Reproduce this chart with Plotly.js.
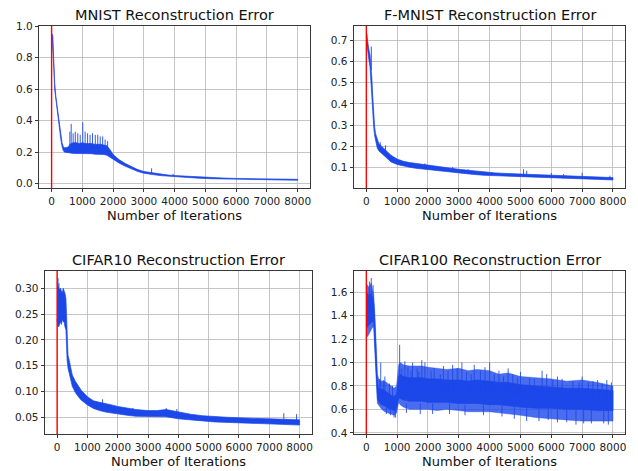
<!DOCTYPE html>
<html>
<head>
<meta charset="utf-8">
<script src="https://cdn.plot.ly/plotly-3.0.1.min.js"></script>
<style>html,body{margin:0;padding:0;background:#fff;}#chart{width:638px;height:471px;}</style>
</head>
<body>
<div id="chart"></div>
<script>
// ---------- DATA ----------
var titles = ["MNIST Reconstruction Error", "F-MNIST Reconstruction Error", "CIFAR10 Reconstruction Error", "CIFAR100 Reconstruction Error"];
var xLabel = "Number of Iterations";
var xTickVals = [0, 1000, 2000, 3000, 4000, 5000, 6000, 7000, 8000];

// MNIST: upper / lower envelope of the noisy curve
var mnistIter = [0, 20, 40, 70, 100, 140, 180, 220, 260, 300, 340, 380, 420, 480, 540, 600, 700, 800, 900, 1000, 1100, 1200, 1300, 1400, 1500, 1600, 1700, 1800, 1900, 2000, 2100, 2200, 2400, 2600, 2800, 3000, 3200, 3400, 3600, 3800, 4000, 4400, 4800, 5200, 5600, 6000, 6500, 7000, 7500, 8000];
var mnistHi = [0.95, 0.95, 0.94, 0.78, 0.64, 0.55, 0.49, 0.43, 0.37, 0.31, 0.26, 0.235, 0.228, 0.23, 0.232, 0.25, 0.26, 0.26, 0.255, 0.26, 0.255, 0.255, 0.255, 0.25, 0.25, 0.25, 0.245, 0.24, 0.215, 0.185, 0.168, 0.152, 0.127, 0.106, 0.089, 0.077, 0.071, 0.063, 0.058, 0.054, 0.051, 0.046, 0.042, 0.038, 0.035, 0.033, 0.031, 0.029, 0.028, 0.027];
var mnistLo = [0.92, 0.92, 0.90, 0.74, 0.60, 0.51, 0.45, 0.40, 0.34, 0.28, 0.235, 0.21, 0.2, 0.198, 0.196, 0.195, 0.192, 0.19, 0.19, 0.19, 0.19, 0.19, 0.19, 0.187, 0.187, 0.185, 0.185, 0.18, 0.17, 0.155, 0.142, 0.13, 0.11, 0.092, 0.077, 0.066, 0.06, 0.054, 0.05, 0.046, 0.043, 0.038, 0.034, 0.031, 0.029, 0.027, 0.025, 0.023, 0.022, 0.021];
var mnistSpikeIter = [593, 637, 700, 770, 850, 930, 1013, 1090, 1170, 1250, 1330, 1420, 1500, 1580, 1660, 1740, 1822, 3250, 3950];
var mnistSpikeTop = [0.33, 0.38, 0.32, 0.33, 0.32, 0.31, 0.39, 0.33, 0.32, 0.31, 0.32, 0.31, 0.31, 0.30, 0.30, 0.28, 0.27, 0.097, 0.062];
var mnistSpikeBottom = [0.2, 0.2, 0.2, 0.2, 0.2, 0.2, 0.2, 0.2, 0.2, 0.2, 0.2, 0.2, 0.2, 0.2, 0.19, 0.19, 0.19, 0.065, 0.048];

// F-MNIST
var fmIter = [0, 30, 60, 90, 120, 150, 180, 210, 240, 270, 300, 350, 400, 500, 600, 700, 800, 1000, 1200, 1400, 1600, 1800, 2000, 2300, 2600, 3000, 3400, 3800, 4200, 4600, 5000, 5400, 5800, 6200, 6600, 7000, 7400, 7800, 8000];
var fmHi = [0.735, 0.70, 0.675, 0.65, 0.63, 0.59, 0.52, 0.43, 0.35, 0.29, 0.26, 0.23, 0.215, 0.2, 0.185, 0.172, 0.158, 0.14, 0.13, 0.124, 0.12, 0.116, 0.111, 0.104, 0.098, 0.092, 0.086, 0.079, 0.075, 0.072, 0.07, 0.067, 0.065, 0.063, 0.061, 0.06, 0.058, 0.055, 0.053];
var fmLo = [0.70, 0.655, 0.63, 0.60, 0.575, 0.52, 0.44, 0.37, 0.29, 0.25, 0.225, 0.195, 0.18, 0.165, 0.15, 0.14, 0.127, 0.115, 0.107, 0.102, 0.097, 0.093, 0.09, 0.085, 0.08, 0.075, 0.069, 0.064, 0.06, 0.057, 0.055, 0.053, 0.051, 0.049, 0.048, 0.047, 0.045, 0.043, 0.042];
var fmSpikeIter = [20, 162, 450, 620, 1100, 1900, 2800, 3300, 5100, 5200, 6000, 6400, 7000, 7900];
var fmSpikeTop = [0.73, 0.67, 0.22, 0.205, 0.135, 0.12, 0.102, 0.092, 0.092, 0.085, 0.075, 0.07, 0.076, 0.062];
var fmSpikeBottom = [0.66, 0.56, 0.18, 0.16, 0.11, 0.095, 0.08, 0.072, 0.056, 0.056, 0.05, 0.049, 0.047, 0.043];

// CIFAR10
var c10Iter = [0, 20, 50, 80, 110, 140, 170, 200, 230, 260, 290, 310, 330, 360, 400, 450, 500, 600, 700, 800, 1000, 1200, 1400, 1600, 1800, 2000, 2300, 2600, 3000, 3300, 3600, 4000, 4400, 4800, 5200, 5600, 6000, 6500, 7000, 7500, 8000];
var c10Hi = [0.31, 0.305, 0.30, 0.296, 0.30, 0.295, 0.29, 0.30, 0.295, 0.29, 0.28, 0.24, 0.19, 0.17, 0.16, 0.145, 0.132, 0.12, 0.11, 0.102, 0.09, 0.082, 0.079, 0.077, 0.074, 0.071, 0.068, 0.065, 0.063, 0.063, 0.065, 0.06, 0.056, 0.053, 0.051, 0.05, 0.049, 0.048, 0.047, 0.047, 0.045];
var c10Lo = [0.24, 0.23, 0.225, 0.23, 0.235, 0.23, 0.24, 0.235, 0.235, 0.225, 0.22, 0.19, 0.16, 0.145, 0.135, 0.12, 0.11, 0.098, 0.09, 0.083, 0.074, 0.067, 0.063, 0.06, 0.058, 0.056, 0.054, 0.052, 0.051, 0.051, 0.051, 0.047, 0.045, 0.043, 0.041, 0.04, 0.039, 0.038, 0.037, 0.036, 0.035];
var c10SpikeIter = [30, 60, 1500, 2500, 3600, 3950, 7480, 7900];
var c10SpikeTop = [0.32, 0.31, 0.085, 0.068, 0.068, 0.066, 0.058, 0.056];
var c10SpikeBottom = [0.25, 0.24, 0.065, 0.055, 0.052, 0.05, 0.04, 0.038];

// CIFAR100: outer extremes and dense core
var c100Iter = [0, 40, 80, 120, 160, 200, 240, 270, 300, 330, 360, 400, 500, 600, 700, 800, 900, 980, 1050, 1100, 1200, 1400, 1600, 1800, 2000, 2300, 2600, 3000, 3300, 3600, 4000, 4300, 4600, 5000, 5500, 6000, 6500, 7000, 7500, 8000];
var c100OuterHi = [1.67, 1.66, 1.64, 1.66, 1.68, 1.62, 1.58, 1.45, 1.25, 1.05, 0.9, 0.86, 0.84, 0.84, 0.82, 0.8, 0.78, 0.8, 0.98, 1.0, 0.98, 0.97, 0.97, 0.97, 0.96, 0.95, 0.94, 0.95, 0.93, 0.94, 0.93, 0.9, 0.91, 0.88, 0.87, 0.86, 0.84, 0.85, 0.83, 0.8];
var c100OuterLo = [1.24, 1.22, 1.25, 1.27, 1.28, 1.3, 1.3, 1.2, 1.0, 0.8, 0.65, 0.63, 0.6, 0.58, 0.57, 0.56, 0.55, 0.57, 0.66, 0.64, 0.62, 0.6, 0.6, 0.6, 0.6, 0.59, 0.6, 0.59, 0.58, 0.58, 0.58, 0.57, 0.56, 0.55, 0.53, 0.52, 0.51, 0.5, 0.5, 0.5];
var c100CoreHi = [1.6, 1.58, 1.57, 1.58, 1.58, 1.55, 1.5, 1.38, 1.16, 0.97, 0.82, 0.78, 0.77, 0.76, 0.74, 0.72, 0.71, 0.73, 0.88, 0.9, 0.88, 0.87, 0.87, 0.87, 0.86, 0.86, 0.85, 0.85, 0.84, 0.85, 0.84, 0.83, 0.83, 0.81, 0.8, 0.79, 0.78, 0.78, 0.77, 0.76];
var c100CoreLo = [1.32, 1.3, 1.32, 1.33, 1.34, 1.35, 1.34, 1.26, 1.06, 0.86, 0.69, 0.66, 0.64, 0.63, 0.61, 0.6, 0.59, 0.61, 0.7, 0.69, 0.68, 0.67, 0.67, 0.67, 0.66, 0.66, 0.66, 0.65, 0.65, 0.65, 0.64, 0.64, 0.63, 0.62, 0.61, 0.61, 0.6, 0.6, 0.59, 0.59];
var c100SpikeIter = [160, 100, 220, 467, 420, 550, 600, 750, 850, 650, 780, 900, 950,
  1080, 1150, 1250, 1350, 1450, 1500, 1650, 1700, 1800, 1900, 2100, 2200, 2400, 2500, 2650, 2800, 2950, 3100, 3250, 3400, 3500, 3700, 3850, 4000, 4150, 4300, 4450, 4600, 4750, 4900, 5000, 5300, 5450, 5700, 5850, 6050, 6200, 6350, 6700, 6900, 7000, 7200, 7350, 7500, 7650, 7800, 7950,
  1300, 1750, 2150, 2700, 3200, 3800, 4400, 4800, 5200, 5600, 5900, 6200, 6500, 6800, 7050, 7300, 7700, 7850];
var c100SpikeTop = [1.72, 1.69, 1.66, 1.0, 0.86, 0.85, 0.88, 0.82, 0.8, 0.62, 0.62, 0.62, 0.62,
  1.15, 0.95, 1.01, 0.96, 0.93, 1.0, 0.95, 0.92, 1.02, 1.0, 0.93, 0.95, 0.9, 0.97, 0.93, 0.98, 0.95, 1.0, 0.92, 0.9, 0.98, 0.93, 0.96, 1.0, 0.9, 0.93, 0.88, 0.95, 0.9, 0.87, 0.92, 0.87, 0.86, 0.93, 0.9, 0.85, 0.88, 0.86, 0.84, 0.83, 0.88, 0.83, 0.84, 0.85, 0.82, 0.85, 0.83,
  0.65, 0.65, 0.65, 0.65, 0.64, 0.64, 0.63, 0.62, 0.62, 0.61, 0.61, 0.6, 0.6, 0.6, 0.6, 0.6, 0.6, 0.59];
var c100SpikeBottom = [1.5, 1.45, 1.45, 0.75, 0.72, 0.72, 0.7, 0.68, 0.66, 0.56, 0.55, 0.53, 0.53,
  0.8, 0.8, 0.8, 0.8, 0.8, 0.8, 0.8, 0.8, 0.8, 0.8, 0.78, 0.78, 0.78, 0.75, 0.75, 0.75, 0.75, 0.75, 0.75, 0.75, 0.75, 0.75, 0.75, 0.75, 0.75, 0.75, 0.72, 0.72, 0.72, 0.72, 0.72, 0.7, 0.7, 0.7, 0.7, 0.7, 0.7, 0.7, 0.7, 0.7, 0.7, 0.68, 0.68, 0.68, 0.68, 0.68, 0.68,
  0.57, 0.56, 0.56, 0.56, 0.55, 0.55, 0.54, 0.52, 0.5, 0.5, 0.51, 0.49, 0.49, 0.47, 0.48, 0.48, 0.48, 0.47];

// ---------- STYLE ----------
var BLUE = '#1c48ea';
var FONT = 'DejaVu Sans, Liberation Sans, sans-serif';

function band(xs, hi, lo, xa, ya, color, fillcolor, w) {
  return {
    x: xs.concat(xs.slice().reverse()),
    y: hi.concat(lo.slice().reverse()),
    xaxis: xa, yaxis: ya, type: 'scatter', mode: 'lines',
    fill: 'toself', fillcolor: fillcolor,
    line: {color: color, width: w}, hoverinfo: 'skip', showlegend: false
  };
}
function spikes(xs, top, bottom, xa, ya, color, w) {
  var X = [], Y = [];
  for (var i = 0; i < xs.length; i++) {
    X.push(xs[i], xs[i], null);
    Y.push(bottom[i], top[i], null);
  }
  return {x: X, y: Y, xaxis: xa, yaxis: ya, type: 'scatter', mode: 'lines',
          line: {color: color, width: w}, hoverinfo: 'skip', showlegend: false, connectgaps: false};
}

var traces = [
  band(mnistIter, mnistHi, mnistLo, 'x', 'y', BLUE, BLUE, 0.7),
  spikes(mnistSpikeIter, mnistSpikeTop, mnistSpikeBottom, 'x', 'y', BLUE, 0.9),
  band(fmIter, fmHi, fmLo, 'x2', 'y2', BLUE, BLUE, 0.7),
  spikes(fmSpikeIter, fmSpikeTop, fmSpikeBottom, 'x2', 'y2', BLUE, 0.9),
  band(c10Iter, c10Hi, c10Lo, 'x3', 'y3', BLUE, BLUE, 0.7),
  spikes(c10SpikeIter, c10SpikeTop, c10SpikeBottom, 'x3', 'y3', BLUE, 0.9),
  band(c100Iter, c100OuterHi, c100OuterLo, 'x4', 'y4', 'rgba(28,72,234,0.7)', 'rgba(28,72,234,0.8)', 0.6),
  band(c100Iter, c100CoreHi, c100CoreLo, 'x4', 'y4', BLUE, BLUE, 0.7),
  spikes(c100SpikeIter, c100SpikeTop, c100SpikeBottom, 'x4', 'y4', 'rgba(28,72,234,0.85)', 1.0)
];

var W = 638, H = 471;
// pixel boxes of the four axes [left, right, top, bottom]
var boxes = [[39.3, 310, 26, 188], [354, 625.3, 26, 188], [45, 311.7, 271, 434], [354, 625.3, 271, 434]];
var yRanges = [[-0.028, 1.002], [0.004, 0.767], [0.0176, 0.3335], [0.39, 1.78]];
var yDtick = [0.2, 0.1, 0.05, 0.2];
var yTick0 = [0, 0.1, 0.05, 0.4];
var yFmt = ['.1f', '.1f', '.2f', '.1f'];

var layout = {
  width: W, height: H, margin: {l: 0, r: 0, t: 0, b: 0},
  paper_bgcolor: '#fff', plot_bgcolor: '#fff',
  font: {family: FONT, size: 10.5, color: '#222'},
  showlegend: false, shapes: [], annotations: []
};

function axCommon() {
  return {
    showline: true, mirror: true, linecolor: '#222', linewidth: 0.9,
    ticks: 'outside', ticklen: 3.5, tickwidth: 0.9, tickcolor: '#222',
    showgrid: true, gridcolor: '#b8b8b8', gridwidth: 0.8, zeroline: false,
    tickfont: {family: FONT, size: 10.5, color: '#222'}, fixedrange: true
  };
}

for (var k = 0; k < 4; k++) {
  var b = boxes[k];
  var sx = k === 0 ? '' : String(k + 1);
  var xa = axCommon();
  xa.domain = [b[0] / W, b[1] / W];
  xa.range = [-400, 8400];
  xa.tickmode = 'array'; xa.tickvals = xTickVals;
  xa.ticktext = xTickVals.map(function (v) { return String(v); });
  xa.anchor = 'y' + sx;
  var ya = axCommon();
  ya.domain = [1 - b[3] / H, 1 - b[2] / H];
  ya.range = yRanges[k];
  ya.tick0 = yTick0[k]; ya.dtick = yDtick[k]; ya.tickformat = yFmt[k];
  ya.anchor = 'x' + sx;
  layout['xaxis' + sx] = xa;
  layout['yaxis' + sx] = ya;

  layout.shapes.push({type: 'line', xref: 'x' + sx, yref: 'y' + sx + ' domain',
    x0: 0, x1: 0, y0: 0, y1: 1, line: {color: '#ff0000', width: 1.4}, layer: 'above'});

  var cx = (b[0] + b[1]) / 2 / W;
  layout.annotations.push({text: titles[k], xref: 'paper', yref: 'paper', x: cx,
    y: 1 - (b[2] - 11) / H, xanchor: 'center', yanchor: 'middle', showarrow: false,
    font: {family: FONT, size: 14.5, color: '#111'}});
  layout.annotations.push({text: xLabel, xref: 'paper', yref: 'paper', x: cx,
    y: 1 - (b[3] + 27) / H, xanchor: 'center', yanchor: 'middle', showarrow: false,
    font: {family: FONT, size: 13, color: '#111'}});
}

Plotly.newPlot('chart', traces, layout, {staticPlot: true, displayModeBar: false});
</script>
</body>
</html>
